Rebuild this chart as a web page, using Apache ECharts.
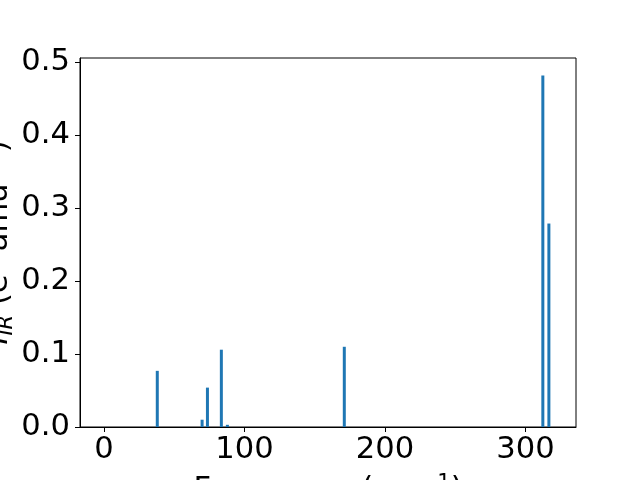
<!DOCTYPE html>
<html><head><meta charset="utf-8">
<script src="https://cdn.jsdelivr.net/npm/echarts@6/dist/echarts.min.js"></script>
<style>html,body{margin:0;padding:0;background:#fff}#c{width:640px;height:480px}</style>
</head><body><div id="c"></div>
<script>
const frequencies = [38.0, 69.9, 73.7, 83.6, 87.9, 171.1, 312.4, 316.7];
const intensities = [0.077, 0.010, 0.054, 0.106, 0.003, 0.110, 0.482, 0.279];
const xTicks = [0, 100, 200, 300];
const yTicks = [0, 0.1, 0.2, 0.3, 0.4, 0.5];

const font = 'DejaVu Sans';
const fs = 30.6;
const fsSmall = 21;
const chart = echarts.init(document.getElementById('c'), null, {renderer: 'canvas'});
chart.setOption({
  animation: false,
  grid: {left: 80, right: 64, top: 58, bottom: 53, containLabel: false, outerBoundsMode: 'none',
    show: true, borderColor: '#000', borderWidth: 1, backgroundColor: 'transparent'},
  xAxis: {
    type: 'value', min: -17, max: 336,
    splitLine: {show: false},
    axisLine: {show: true, onZero: false, lineStyle: {color: '#000', width: 1}},
    axisTick: {show: true, length: 5, inside: false, customValues: xTicks, lineStyle: {color: '#000'}},
    axisLabel: {customValues: xTicks, fontFamily: font, fontSize: fs, color: '#000', margin: 8},
    name: 'Frequency (cm{s|−1})',
    nameLocation: 'middle', nameGap: 46, nameMoveOverlap: false,
    nameTextStyle: {fontFamily: font, fontSize: fs, color: '#000', verticalAlign: 'top',
      rich: {s: {fontFamily: font, fontSize: fsSmall, color: '#000', verticalAlign: 'top', padding: [0,0,14,0]}}}
  },
  yAxis: {
    type: 'value', min: 0, max: 0.506,
    splitLine: {show: false},
    axisLine: {show: true, onZero: false, lineStyle: {color: '#000', width: 1}},
    axisTick: {show: true, length: 5, inside: false, customValues: yTicks, lineStyle: {color: '#000'}},
    axisLabel: {customValues: yTicks, fontFamily: font, fontSize: fs, color: '#000', margin: 10,
      formatter: v => v.toFixed(1)},
    name: '{i|I}{sub|IR} (e{s|2} amu{s|−1})',
    nameLocation: 'middle', nameGap: 63, nameRotate: 90, nameMoveOverlap: false,
    nameTextStyle: {fontFamily: font, fontSize: fs, color: '#000',
      rich: {
        i: {fontFamily: font, fontSize: fs, fontStyle: 'italic', color: '#000'},
        sub: {fontFamily: font, fontSize: fsSmall, fontStyle: 'italic', color: '#000', verticalAlign: 'bottom', padding: [10,0,0,0]},
        s: {fontFamily: font, fontSize: fsSmall, color: '#000', verticalAlign: 'top', padding: [0,0,14,0]}
      }}
  },
  series: [{
    type: 'bar', barWidth: 3,
    itemStyle: {color: '#1f77b4'},
    data: frequencies.map((f, i) => [f, intensities[i]])
  }]
});
</script></body></html>
